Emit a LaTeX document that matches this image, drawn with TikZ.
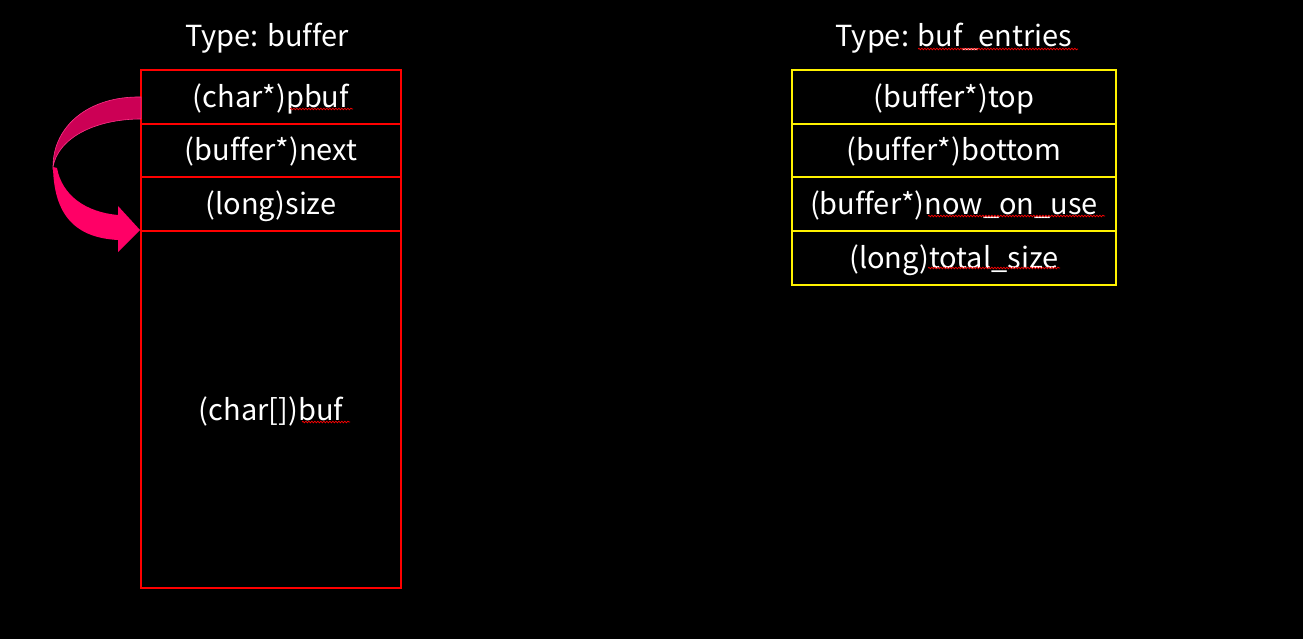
\documentclass[tikz,border=0pt]{standalone}
\usepackage{fontspec}
\setmainfont[Ligatures={NoCommon}]{Noto Sans CJK JP}
\usetikzlibrary{decorations.pathmorphing}
\definecolor{arrowdark}{HTML}{CC0055}
\definecolor{arrowbright}{HTML}{FF0066}
\definecolor{arrowedge}{HTML}{FF3388}
\begin{document}
\begin{tikzpicture}[x=1pt,y=-1pt,
  txt/.style={text=white, font=\fontsize{29}{33}\selectfont, inner sep=0pt},
  cellbase/.style={txt, line width=2pt, text height=25pt, text depth=4pt},
  cellr/.style={cellbase, draw=red, minimum width=260pt},
  celly/.style={cellbase, draw=yellow, minimum width=324pt},
  squig/.style={draw=red, line width=0.7pt, decorate, decoration={snake, amplitude=0.8pt, segment length=3pt}}]
\fill[black] (0,0) rectangle (1303,639);
\useasboundingbox (0,0) rectangle (1303,639);

% titles
\node[txt, anchor=base] (t1) at (267,47) {Type: buffer};
\node[txt, anchor=base] (t2) at (954,47) {Type: buf\_entries};

% buffer table
\node[cellr, minimum height=54pt] (r1) at (271,97) {(char*)pbuf};
\node[cellr, minimum height=53pt] (r2) at (271,150.5) {(buffer*)next};
\node[cellr, minimum height=54pt] (r3) at (271,204) {(long)size};
\node[cellr, minimum height=357pt] (r4) at (271,409.5) {(char[])buf};

% buf_entries table
\node[celly, minimum height=54pt] (y1) at (954,97) {(buffer*)top};
\node[celly, minimum height=53pt] (y2) at (954,150.5) {(buffer*)bottom};
\node[celly, minimum height=54pt] (y3) at (954,204) {(buffer*)now\_on\_use};
\node[celly, minimum height=54pt] (y4) at (954,258) {(long)total\_size};

% curved arrow
\coordinate (tip) at (r4.north west);
\fill[arrowdark, draw=arrowedge, line width=0.6pt]
  (141,97) .. controls (90,96) and (53,125) .. (53,167)
  .. controls (58,138) and (95,119) .. (141,119) -- cycle;
\fill[arrowbright]
  (53,167) .. controls (54,222) and (82,238) .. (118,240)
  -- (118,252) -- (tip) -- (118,206) -- (118,215)
  .. controls (85,212) and (62,195) .. (57,168) -- cycle;

% spell-check squiggles
\draw[squig] (290,109) -- (353,109);
\draw[squig] (302,422) -- (350,422);
\draw[squig] (918,49) -- (1078,49);
\draw[squig] (928,216) -- (1105,216);
\draw[squig] (928,268) -- (1060,268);
\end{tikzpicture}
\end{document}
